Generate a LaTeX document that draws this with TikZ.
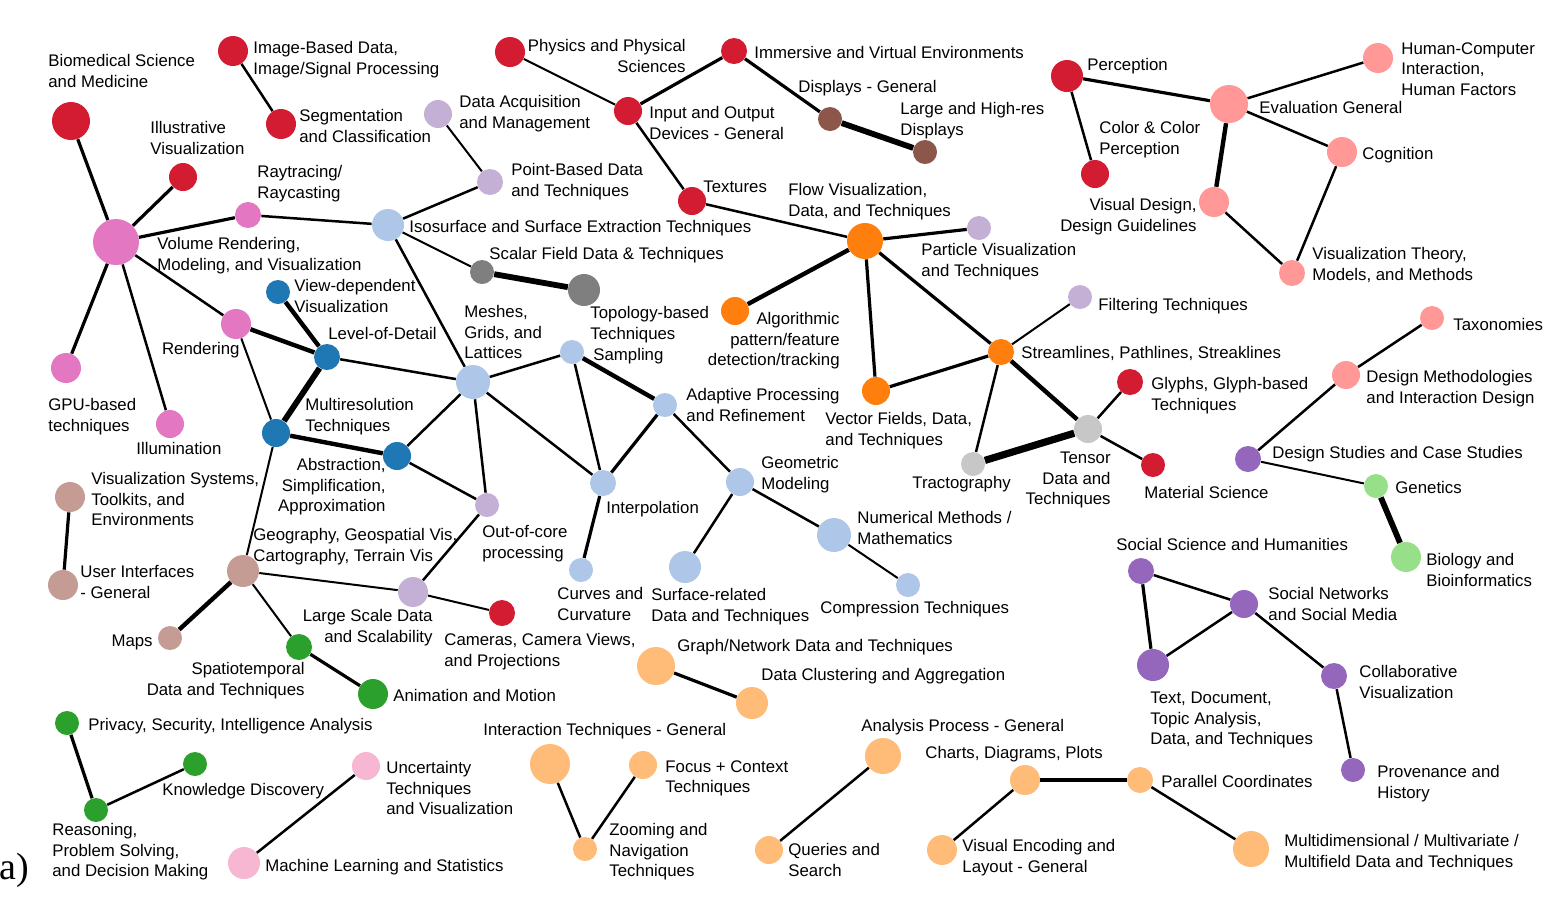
\documentclass[tikz,border=0pt]{standalone}
\usepackage{fontspec}
\setmainfont{Liberation Sans}
\newfontfamily\panelfont{Liberation Serif}
\definecolor{cred}{HTML}{D31B31}
\definecolor{cpink}{HTML}{E377C2}
\definecolor{clpink}{HTML}{F7B6D2}
\definecolor{clblue}{HTML}{AEC7E8}
\definecolor{cdblue}{HTML}{1F77B4}
\definecolor{clav}{HTML}{C5B0D5}
\definecolor{cgray}{HTML}{7F7F7F}
\definecolor{clgray}{HTML}{C7C7C7}
\definecolor{corange}{HTML}{FF7F0E}
\definecolor{clorange}{HTML}{FFBB78}
\definecolor{cbrown}{HTML}{8C564B}
\definecolor{clbrown}{HTML}{C49C94}
\definecolor{cgreen}{HTML}{2CA02C}
\definecolor{clgreen}{HTML}{98DF8A}
\definecolor{cpurple}{HTML}{9467BD}
\definecolor{csalmon}{HTML}{FF9896}
\tikzset{
  dot/.style={circle, inner sep=0pt, draw=none},
  txt/.style={inner sep=0pt, align=left, anchor=north west, font=\fontsize{8.4}{10.25}\selectfont},
  txtr/.style={inner sep=0pt, align=right, anchor=north east, font=\fontsize{8.4}{10.25}\selectfont},
  rels/.style={line width=1pt},
  rel/.style={line width=1.25pt},
  relm/.style={line width=1.6pt},
  relt/.style={line width=2.2pt},
  relx/.style={line width=2.9pt},
  relxx/.style={line width=3.6pt}
}
\begin{document}
\begin{tikzpicture}[x=0.5pt,y=-0.5pt]
\useasboundingbox (0,0) rectangle (1568,902);

% volume rendering / imaging
\node[dot,fill=cred,minimum size=19pt] (biomed) at (71,121) {};
\node[txt] (biomed-l) at (48,54) {Biomedical Science\\and Medicine};
\node[dot,fill=cred,minimum size=15pt] (imgdata) at (233,51) {};
\node[txt] (imgdata-l) at (253,41) {Image-Based Data,\\Image/Signal Processing};
\node[dot,fill=cred,minimum size=15pt] (segment) at (281,124) {};
\node[txt] (segment-l) at (299,109) {Segmentation\\and Classification};
\node[dot,fill=cred,minimum size=14pt] (illustr) at (183,177) {};
\node[txt] (illustr-l) at (150,121) {Illustrative\\Visualization};
\node[dot,fill=cpink,minimum size=23pt] (volrend) at (116,242) {};
\node[txt] (volrend-l) at (157,237) {Volume Rendering,\\Modeling, and Visualization};
\node[dot,fill=cpink,minimum size=13pt] (raytrace) at (248,215) {};
\node[txt] (raytrace-l) at (257,165) {Raytracing/\\Raycasting};
\node[dot,fill=cpink,minimum size=15pt] (rendering) at (236,324) {};
\node[txtr] (rendering-l) at (240,342) {Rendering};
\node[dot,fill=cpink,minimum size=15pt] (gpu) at (66,368) {};
\node[txt] (gpu-l) at (48,398) {GPU-based\\techniques};
\node[dot,fill=cpink,minimum size=14pt] (illum) at (170,424) {};
\node[txt] (illum-l) at (136,442) {Illumination};

% surfaces, meshes, multiresolution
\node[dot,fill=clblue,minimum size=16pt] (isosurf) at (388,225) {};
\node[txt] (isosurf-l) at (409,220) {Isosurface and Surface Extraction Techniques};
\node[dot,fill=clav,minimum size=14pt] (dataacq) at (438,114) {};
\node[txt] (dataacq-l) at (459,95) {Data Acquisition\\and Management};
\node[dot,fill=clav,minimum size=13pt] (pointbased) at (490,182) {};
\node[txt] (pointbased-l) at (511,163) {Point-Based Data\\and Techniques};
\node[dot,fill=cgray,minimum size=12pt] (scalar) at (482,272) {};
\node[txt] (scalar-l) at (489,247) {Scalar Field Data \& Techniques};
\node[dot,fill=cgray,minimum size=16pt] (topology) at (584,290) {};
\node[txt] (topology-l) at (590,306) {Topology-based\\Techniques};
\node[dot,fill=clblue,minimum size=12pt] (sampling) at (572,352) {};
\node[txt] (sampling-l) at (593,348) {Sampling};
\node[dot,fill=clblue,minimum size=17pt] (meshes) at (473,382) {};
\node[txt] (meshes-l) at (464,305) {Meshes,\\Grids, and\\Lattices};
\node[dot,fill=cdblue,minimum size=12pt] (viewdep) at (278,292) {};
\node[txt] (viewdep-l) at (294,279) {View-dependent\\Visualization};
\node[dot,fill=cdblue,minimum size=13pt] (lod) at (327,357) {};
\node[txt] (lod-l) at (328,327) {Level-of-Detail};
\node[dot,fill=cdblue,minimum size=14pt] (multires) at (276,433) {};
\node[txt] (multires-l) at (305,398) {Multiresolution\\Techniques};
\node[dot,fill=cdblue,minimum size=14pt] (abstraction) at (397,456) {};
\node[txtr] (abstraction-l) at (386,458) {Abstraction,\\Simplification,\\Approximation};
\node[dot,fill=clav,minimum size=12pt] (outofcore) at (487,505) {};
\node[txt] (outofcore-l) at (482,525) {Out-of-core\\processing};
\node[dot,fill=clblue,minimum size=13pt] (interp) at (603,483) {};
\node[txt] (interp-l) at (606,501) {Interpolation};
\node[dot,fill=clblue,minimum size=12pt] (adaptive) at (665,405) {};
\node[txt] (adaptive-l) at (686,388) {Adaptive Processing\\and Refinement};
\node[dot,fill=clblue,minimum size=14pt] (geometric) at (740,482) {};
\node[txt] (geometric-l) at (761,456) {Geometric\\Modeling};
\node[dot,fill=clblue,minimum size=17pt] (numerical) at (834,535) {};
\node[txt] (numerical-l) at (857,511) {Numerical Methods /\\Mathematics};
\node[dot,fill=clblue,minimum size=12pt] (compression) at (908,585) {};
\node[txt] (compression-l) at (820,601) {Compression Techniques};
\node[dot,fill=clblue,minimum size=12pt] (curves) at (581,570) {};
\node[txt] (curves-l) at (557,587) {Curves and\\Curvature};
\node[dot,fill=clblue,minimum size=16pt] (surfrel) at (685,567) {};
\node[txt] (surfrel-l) at (651,588) {Surface-related\\Data and Techniques};

% systems, geography, large data
\node[dot,fill=clbrown,minimum size=15pt] (vissys) at (70,497) {};
\node[txt] (vissys-l) at (91,472) {Visualization Systems,\\Toolkits, and\\Environments};
\node[dot,fill=clbrown,minimum size=15pt] (userint) at (63,585) {};
\node[txt] (userint-l) at (80,565) {User Interfaces\\- General};
\node[dot,fill=clbrown,minimum size=16pt] (geography) at (243,571) {};
\node[txt] (geography-l) at (253,528) {Geography, Geospatial Vis,\\Cartography, Terrain Vis};
\node[dot,fill=clbrown,minimum size=12pt] (maps) at (170,638) {};
\node[txtr] (maps-l) at (153,635) {Maps};
\node[dot,fill=clav,minimum size=15pt] (largescale) at (413,592) {};
\node[txtr] (largescale-l) at (433,609) {Large Scale Data\\and Scalability};
\node[dot,fill=cred,minimum size=13pt] (cameras) at (502,613) {};
\node[txt] (cameras-l) at (444,633) {Cameras, Camera Views,\\and Projections};
\node[dot,fill=cgreen,minimum size=13pt] (spatiotemp) at (299,647) {};
\node[txtr] (spatiotemp-l) at (305,662) {Spatiotemporal\\Data and Techniques};
\node[dot,fill=cgreen,minimum size=15pt] (animation) at (373,694) {};
\node[txt] (animation-l) at (393,689) {Animation and Motion};
\node[dot,fill=cgreen,minimum size=12pt] (privacy) at (67,723) {};
\node[txt] (privacy-l) at (88,718) {Privacy, Security, Intelligence Analysis};
\node[dot,fill=cgreen,minimum size=12pt] (knowledge) at (195,764) {};
\node[txt] (knowledge-l) at (162,783) {Knowledge Discovery};
\node[dot,fill=cgreen,minimum size=12pt] (reasoning) at (96,810) {};
\node[txt] (reasoning-l) at (52,823) {Reasoning,\\Problem Solving,\\and Decision Making};
\node[dot,fill=clpink,minimum size=14pt] (uncertainty) at (366,766) {};
\node[txt] (uncertainty-l) at (386,761) {Uncertainty\\Techniques\\and Visualization};
\node[dot,fill=clpink,minimum size=16pt] (machinelearn) at (244,863) {};
\node[txt] (machinelearn-l) at (265,859) {Machine Learning and Statistics};

% devices and flow
\node[dot,fill=cred,minimum size=15pt] (physics) at (510,52) {};
\node[txtr] (physics-l) at (686,39) {Physics and Physical\\Sciences};
\node[dot,fill=cred,minimum size=14pt] (inputoutput) at (628,111) {};
\node[txt] (inputoutput-l) at (649,106) {Input and Output\\Devices - General};
\node[dot,fill=cred,minimum size=13pt] (immersive) at (734,51) {};
\node[txt] (immersive-l) at (754,46) {Immersive and Virtual Environments};
\node[dot,fill=cbrown,minimum size=12pt] (displays) at (830,119) {};
\node[txt] (displays-l) at (798,80) {Displays - General};
\node[dot,fill=cbrown,minimum size=12pt] (largehires) at (925,152) {};
\node[txt] (largehires-l) at (900,102) {Large and High-res\\Displays};
\node[dot,fill=cred,minimum size=14pt] (textures) at (692,201) {};
\node[txt] (textures-l) at (703,181) {Textures};
\node[dot,fill=corange,minimum size=18pt] (flowvis) at (865,241) {};
\node[txt] (flowvis-l) at (788,183) {Flow Visualization,\\Data, and Techniques};
\node[dot,fill=clav,minimum size=12pt] (particle) at (979,228) {};
\node[txt] (particle-l) at (921,243) {Particle Visualization\\and Techniques};
\node[dot,fill=corange,minimum size=14pt] (algorithmic) at (735,311) {};
\node[txtr] (algorithmic-l) at (840,312) {Algorithmic\\pattern/feature\\detection/tracking};
\node[dot,fill=corange,minimum size=14pt] (vectorfields) at (876,391) {};
\node[txt] (vectorfields-l) at (825,412) {Vector Fields, Data,\\and Techniques};
\node[dot,fill=corange,minimum size=13pt] (streamlines) at (1001,352) {};
\node[txt] (streamlines-l) at (1021,346) {Streamlines, Pathlines, Streaklines};
\node[dot,fill=clav,minimum size=12pt] (filtering) at (1080,297) {};
\node[txt] (filtering-l) at (1098,298) {Filtering Techniques};
\node[dot,fill=clgray,minimum size=14pt] (tensor) at (1088,429) {};
\node[txtr] (tensor-l) at (1111,452) {Tensor\\Data and\\Techniques};
\node[dot,fill=clgray,minimum size=12pt] (tractography) at (973,464) {};
\node[txt] (tractography-l) at (912,476) {Tractography};
\node[dot,fill=cred,minimum size=13pt] (glyphs) at (1130,382) {};
\node[txt] (glyphs-l) at (1151,377) {Glyphs, Glyph-based\\Techniques};
\node[dot,fill=cred,minimum size=12pt] (material) at (1153,465) {};
\node[txt] (material-l) at (1144,486) {Material Science};

% perception and evaluation
\node[dot,fill=cred,minimum size=16pt] (perception) at (1067,76) {};
\node[txt] (perception-l) at (1087,58) {Perception};
\node[dot,fill=cred,minimum size=14pt] (colorperc) at (1095,174) {};
\node[txt] (colorperc-l) at (1099,121) {Color \& Color\\Perception};
\node[dot,fill=csalmon,minimum size=19pt] (evalgen) at (1229,104) {};
\node[txt] (evalgen-l) at (1259,101) {Evaluation General};
\node[dot,fill=csalmon,minimum size=15pt] (hci) at (1378,58) {};
\node[txt] (hci-l) at (1401,42) {Human-Computer\\Interaction,\\Human Factors};
\node[dot,fill=csalmon,minimum size=15pt] (cognition) at (1342,152) {};
\node[txt] (cognition-l) at (1362,147) {Cognition};
\node[dot,fill=csalmon,minimum size=15pt] (visdesign) at (1214,202) {};
\node[txtr] (visdesign-l) at (1197,198) {Visual Design,\\Design Guidelines};
\node[dot,fill=csalmon,minimum size=13pt] (vistheory) at (1292,273) {};
\node[txt] (vistheory-l) at (1312,247) {Visualization Theory,\\Models, and Methods};
\node[dot,fill=csalmon,minimum size=12pt] (taxonomies) at (1432,318) {};
\node[txt] (taxonomies-l) at (1453,318) {Taxonomies};
\node[dot,fill=csalmon,minimum size=14pt] (designmeth) at (1346,375) {};
\node[txt] (designmeth-l) at (1366,370) {Design Methodologies\\and Interaction Design};
\node[dot,fill=cpurple,minimum size=13pt] (designstudies) at (1248,459) {};
\node[txt] (designstudies-l) at (1272,446) {Design Studies and Case Studies};
\node[dot,fill=clgreen,minimum size=12pt] (genetics) at (1376,486) {};
\node[txt] (genetics-l) at (1395,481) {Genetics};
\node[dot,fill=clgreen,minimum size=15pt] (biology) at (1406,557) {};
\node[txt] (biology-l) at (1426,553) {Biology and\\Bioinformatics};

% social and text
\node[dot,fill=cpurple,minimum size=13pt] (socialsci) at (1141,571) {};
\node[txt] (socialsci-l) at (1116,538) {Social Science and Humanities};
\node[dot,fill=cpurple,minimum size=14pt] (socialnet) at (1244,604) {};
\node[txt] (socialnet-l) at (1268,587) {Social Networks\\and Social Media};
\node[dot,fill=cpurple,minimum size=16pt] (textdoc) at (1153,665) {};
\node[txt] (textdoc-l) at (1150,692) {Text, Document,\\Topic Analysis,\\Data, and Techniques};
\node[dot,fill=cpurple,minimum size=13pt] (collab) at (1334,676) {};
\node[txt] (collab-l) at (1359,665) {Collaborative\\Visualization};
\node[dot,fill=cpurple,minimum size=12pt] (provenance) at (1353,770) {};
\node[txt] (provenance-l) at (1377,765) {Provenance and\\History};

% interaction and analysis
\node[dot,fill=clorange,minimum size=19pt] (graphnet) at (656,666) {};
\node[txt] (graphnet-l) at (677,639) {Graph/Network Data and Techniques};
\node[dot,fill=clorange,minimum size=16pt] (clustering) at (752,703) {};
\node[txt] (clustering-l) at (761,668) {Data Clustering and Aggregation};
\node[dot,fill=clorange,minimum size=20pt] (interaction) at (550,764) {};
\node[txt] (interaction-l) at (483,723) {Interaction Techniques - General};
\node[dot,fill=clorange,minimum size=14pt] (focus) at (643,765) {};
\node[txt] (focus-l) at (665,760) {Focus + Context\\Techniques};
\node[dot,fill=clorange,minimum size=12pt] (zooming) at (585,849) {};
\node[txt] (zooming-l) at (609,823) {Zooming and\\Navigation\\Techniques};
\node[dot,fill=clorange,minimum size=18pt] (analysisproc) at (883,756) {};
\node[txt] (analysisproc-l) at (861,719) {Analysis Process - General};
\node[dot,fill=clorange,minimum size=14pt] (queries) at (769,850) {};
\node[txt] (queries-l) at (788,843) {Queries and\\Search};
\node[dot,fill=clorange,minimum size=15pt] (charts) at (1025,780) {};
\node[txt] (charts-l) at (925,746) {Charts, Diagrams, Plots};
\node[dot,fill=clorange,minimum size=13pt] (parallel) at (1140,780) {};
\node[txt] (parallel-l) at (1161,775) {Parallel Coordinates};
\node[dot,fill=clorange,minimum size=15pt] (visencoding) at (942,850) {};
\node[txt] (visencoding-l) at (962,839) {Visual Encoding and\\Layout - General};
\node[dot,fill=clorange,minimum size=18pt] (multidim) at (1251,849) {};
\node[txt] (multidim-l) at (1284,834) {Multidimensional / Multivariate /\\Multifield Data and Techniques};

\node[inner sep=0pt, anchor=west, font=\panelfont\fontsize{19}{22}\selectfont] (panel) at (-1,870) {a)};

% links
\draw[relm] (biomed) -- (volrend);
\draw[relm] (illustr) -- (volrend);
\draw[relm] (volrend) -- (raytrace);
\draw[relm] (volrend) -- (gpu);
\draw[rel] (volrend) -- (illum);
\draw[rel] (volrend) -- (rendering);
\draw[rel] (raytrace) -- (isosurf);
\draw[rel] (imgdata) -- (segment);
\draw[rels] (dataacq) -- (pointbased);
\draw[rel] (pointbased) -- (isosurf);
\draw[rels] (isosurf) -- (scalar);
\draw[rel] (isosurf) -- (meshes);
\draw[relx] (scalar) -- (topology);
\draw[relt] (viewdep) -- (lod);
\draw[relt] (rendering) -- (lod);
\draw[rels] (rendering) -- (multires);
\draw[relx] (lod) -- (multires);
\draw[rel] (lod) -- (meshes);
\draw[relt] (multires) -- (abstraction);
\draw[rels] (multires) -- (geography);
\draw[rel] (abstraction) -- (meshes);
\draw[rel] (abstraction) -- (outofcore);
\draw[rel] (meshes) -- (outofcore);
\draw[rel] (meshes) -- (sampling);
\draw[rel] (meshes) -- (interp);
\draw[rel] (sampling) -- (interp);
\draw[relt] (sampling) -- (adaptive);
\draw[relm] (adaptive) -- (interp);
\draw[rel] (adaptive) -- (geometric);
\draw[relm] (interp) -- (curves);
\draw[rel] (geometric) -- (surfrel);
\draw[rel] (geometric) -- (numerical);
\draw[rels] (numerical) -- (compression);
\draw[rel] (outofcore) -- (largescale);
\draw[rels] (geography) -- (largescale);
\draw[rels] (largescale) -- (cameras);
\draw[relt] (geography) -- (maps);
\draw[rels] (geography) -- (spatiotemp);
\draw[relm] (spatiotemp) -- (animation);
\draw[relm] (vissys) -- (userint);
\draw[relm] (privacy) -- (reasoning);
\draw[rel] (reasoning) -- (knowledge);
\draw[rel] (uncertainty) -- (machinelearn);
\draw[rels] (physics) -- (inputoutput);
\draw[relm] (inputoutput) -- (immersive);
\draw[rel] (inputoutput) -- (textures);
\draw[relm] (immersive) -- (displays);
\draw[relx] (displays) -- (largehires);
\draw[rel] (textures) -- (flowvis);
\draw[relm] (flowvis) -- (particle);
\draw[relt] (flowvis) -- (algorithmic);
\draw[relm] (flowvis) -- (vectorfields);
\draw[relm] (flowvis) -- (streamlines);
\draw[relm] (streamlines) -- (vectorfields);
\draw[rels] (streamlines) -- (filtering);
\draw[rel] (streamlines) -- (tractography);
\draw[relt] (streamlines) -- (tensor);
\draw[relxx] (tractography) -- (tensor);
\draw[rel] (tensor) -- (glyphs);
\draw[rel] (tensor) -- (material);
\draw[relm] (perception) -- (evalgen);
\draw[rel] (perception) -- (colorperc);
\draw[rel] (evalgen) -- (hci);
\draw[rel] (evalgen) -- (cognition);
\draw[relt] (evalgen) -- (visdesign);
\draw[rel] (visdesign) -- (vistheory);
\draw[rel] (cognition) -- (vistheory);
\draw[rel] (taxonomies) -- (designmeth);
\draw[rel] (designmeth) -- (designstudies);
\draw[rels] (designstudies) -- (genetics);
\draw[relx] (genetics) -- (biology);
\draw[rel] (socialsci) -- (socialnet);
\draw[relm] (socialsci) -- (textdoc);
\draw[rel] (socialnet) -- (textdoc);
\draw[rel] (socialnet) -- (collab);
\draw[rel] (collab) -- (provenance);
\draw[relm] (graphnet) -- (clustering);
\draw[rel] (interaction) -- (zooming);
\draw[rel] (focus) -- (zooming);
\draw[rel] (analysisproc) -- (queries);
\draw[rel] (charts) -- (visencoding);
\draw[relm] (charts) -- (parallel);
\draw[rel] (parallel) -- (multidim);
\end{tikzpicture}
\end{document}
